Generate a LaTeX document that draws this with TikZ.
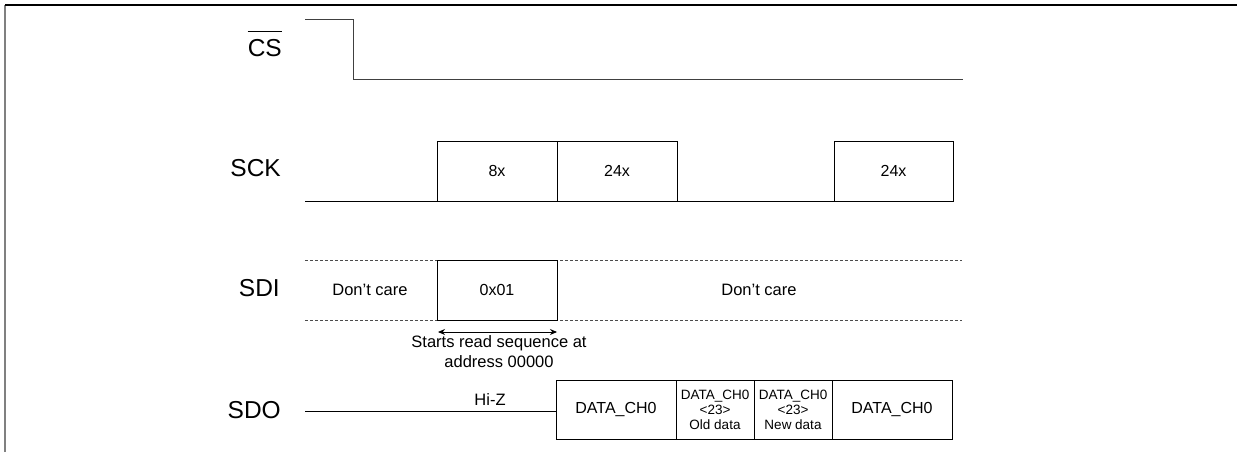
\documentclass[tikz,border=0pt]{standalone}
\usepackage{fontspec}
\setmainfont{Liberation Sans}
\usetikzlibrary{arrows.meta}
\begin{document}
\begin{tikzpicture}[x=1pt,y=-1pt,
  sig/.style={line width=1pt,black,line cap=rect},
  dsig/.style={line width=0.8pt,black!70,dash pattern=on 3pt off 2pt},
  lbl/.style={font=\fontsize{24.5}{28}\selectfont, anchor=east, inner sep=0pt},
  seg/.style={draw, line width=1pt, fill=white, minimum height=60pt, inner sep=0pt, outer sep=0pt,
              font=\fontsize{16}{19}\selectfont, anchor=north west, align=center},
  txt/.style={font=\fontsize{16.5}{20}\selectfont, inner sep=0pt, align=center},
  small/.style={font=\fontsize{13.5}{16}\selectfont, align=center}
]
\useasboundingbox (0,0) rectangle (1246,452);
% frame
\coordinate (fbl) at (5,452);
\coordinate (ftl) at (5,5);
\coordinate (ftr) at (1237,5);
\draw[line width=1.2pt,black!50] (fbl) -- (ftl);
\draw[line width=1.2pt,black] (ftl) -- (ftr);

% labels
\node[lbl] (lcs) at (282,48) {CS};
\draw[line width=1.1pt] ([yshift=7.5pt]lcs.north west) -- ([yshift=7.5pt]lcs.north east);
\node[lbl] (lsck) at (281,168) {SCK};
\node[lbl] (lsdi) at (280,288) {SDI};
\node[lbl] (lsdo) at (281,410) {SDO};

% CS
\coordinate (cs0) at (305,20);
\coordinate (cs1) at (353,20);
\coordinate (cs2) at (353,79);
\coordinate (cs3) at (962,79);
\draw[sig,black!75] (cs0) -- (cs1) -- (cs2) -- (cs3);

% SCK
\coordinate (sck0) at (305,201);
\node[seg,minimum width=120pt] (k8) at (437,141) {8x};
\node[seg,minimum width=120pt] (k24a) at (557,141) {24x};
\node[seg,minimum width=119pt] (k24b) at (834,141) {24x};
\draw[sig] (sck0) -- (k8.south west);
\draw[sig] (k24a.south east) -- (k24b.south west);

% SDI
\coordinate (di0) at (305,260);
\coordinate (di1) at (962,260);
\coordinate (di2) at (305,320);
\coordinate (di3) at (962,320);
\draw[dsig] (di0) -- (di1);
\draw[dsig] (di2) -- (di3);
\node[seg,minimum width=120pt] (d01) at (437,260) {0x01};
\node[txt] (dc1) at (370,290) {Don’t care};
\node[txt] (dc2) at (759,290) {Don’t care};
\coordinate (ar0) at (438,332);
\coordinate (ar1) at (557,332);
\draw[line width=0.9pt,{Stealth[length=7pt,width=6pt]}-{Stealth[length=7pt,width=6pt]}] (ar0) -- (ar1);
\node[txt,anchor=north] (note) at (499,335) {Starts read sequence at\\address 00000};

% SDO
\coordinate (do0) at (305,411);
\node[seg,minimum width=120pt,minimum height=59pt] (o1) at (556,380) {DATA\_CH0};
\node[seg,minimum width=78pt,minimum height=59pt,font=\fontsize{13.5}{16}\selectfont] (o2) at (676,380) {DATA\_CH0\\[-1pt]<23>\\[-1pt]Old data};
\node[seg,minimum width=78pt,minimum height=59pt,font=\fontsize{13.5}{16}\selectfont] (o3) at (754,380) {DATA\_CH0\\[-1pt]<23>\\[-1pt]New data};
\node[seg,minimum width=120pt,minimum height=59pt] (o4) at (832,380) {DATA\_CH0};
\draw[sig] (do0) -- (do0 -| o1.west);
\node[txt,anchor=south] (hiz) at (490,406) {Hi-Z};
\end{tikzpicture}
\end{document}
